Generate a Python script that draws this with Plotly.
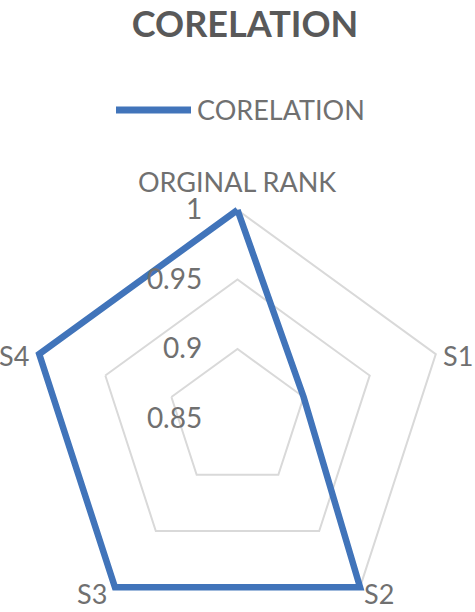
import plotly.graph_objects as go

# données du radar
categories = ["ORGINAL RANK", "S1", "S2", "S3", "S4"]
corelation = [1.0, 0.9, 1.0, 1.0, 1.0]
radial_ticks = [0.85, 0.9, 0.95, 1.0]

LINE_BLUE = "#4174BA"
GRID = "#D9D9D9"
TEXT = "#707070"
FONT = "Lato"

W, H = 475, 656
TOP = 181  # marge haute en px -> centre du radar à y≈418.5
R_OUTER = 208.5  # rayon voulu pour la valeur 1
# le cercle polaire fait 237.5 px : on étire un peu la plage pour que 1 tombe à R_OUTER
r_max = 0.85 + 0.15 * (W / 2) / R_OUTER


def px_x(px):
    return px / W


def px_y(py):
    # coordonnées paper : la zone de tracé va de TOP à H
    return (H - py) / (H - TOP)


fig = go.Figure(go.Scatterpolar(
    r=corelation + corelation[:1],
    theta=categories + categories[:1],
    mode="lines", name="CORELATION",
    line=dict(color=LINE_BLUE, width=6.5),
    cliponaxis=False, showlegend=False,
))

fig.update_layout(
    width=W, height=H,
    margin=dict(l=0, r=0, t=TOP, b=0),
    paper_bgcolor="white",
    font=dict(family=FONT, color=TEXT),
    title=dict(text="<b>CORELATION</b>", x=0.516, xanchor="center",
               y=1 - 24 / H, yanchor="middle",
               font=dict(size=36, color="#595959", family=FONT)),
    polar=dict(
        domain=dict(x=[0, 1], y=[0, 1]),
        bgcolor="white",
        gridshape="linear",
        angularaxis=dict(
            direction="clockwise", rotation=90,
            showgrid=False, showline=False,
            ticks="", showticklabels=False,
        ),
        radialaxis=dict(
            range=[0.85, r_max], tickvals=radial_ticks, angle=90, side="counterclockwise",
            showline=False, gridcolor=GRID, gridwidth=1.5,
            ticks="outside", ticklen=25, tickcolor="rgba(0,0,0,0)", tickangle=90,
            tickfont=dict(size=28, color=TEXT, family=FONT),
        ),
    ),
)

# étiquettes des catégories (placées comme dans Excel)
label_pos = {
    "ORGINAL RANK": (236.5, 181, "center"),
    "S1": (441, 355, "left"),
    "S2": (362, 593, "left"),
    "S3": (109, 593, "right"),
    "S4": (31, 355, "right"),
}
for cat in categories:
    x, y, anchor = label_pos[cat]
    fig.add_annotation(text=cat, xref="paper", yref="paper", x=px_x(x), y=px_y(y),
                       xanchor=anchor, yanchor="middle", showarrow=False,
                       font=dict(size=27, color=TEXT, family=FONT))

# légende dessinée à la main (trait long façon Excel)
fig.add_shape(type="line", xref="paper", yref="paper",
              x0=px_x(116), x1=px_x(191), y0=px_y(110), y1=px_y(110),
              line=dict(color=LINE_BLUE, width=7))
fig.add_annotation(text="CORELATION", xref="paper", yref="paper",
                   x=px_x(195), y=px_y(110), xanchor="left", yanchor="middle",
                   showarrow=False, font=dict(size=27, color=TEXT, family=FONT))

fig.write_html("out.html", config={"displayModeBar": False},
               post_script="document.body.style.margin='0';document.body.style.overflow='hidden';")
